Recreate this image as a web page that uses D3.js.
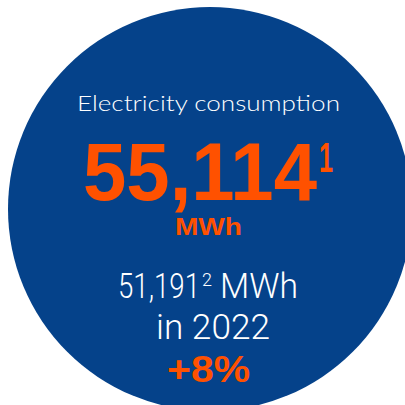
<!DOCTYPE html>
<html><head><meta charset="utf-8">
<script src="https://cdn.jsdelivr.net/npm/d3@7"></script>
<style>html,body{margin:0;padding:0;background:#fff;}svg{display:block;}</style>
</head><body>
<script>
const title = "Electricity consumption";
const currentValue = 55114;
const currentNote = "1";
const unit = "MWh";
const previousValue = 51191;
const previousNote = "2";
const previousYear = 2022;
const changePct = 8;

const W = 405, H = 405;
const blue = "#05428A", orange = "#FF5100";
const fmt = d3.format(",");
const svg = d3.select("body").append("svg").attr("width", W).attr("height", H);

svg.append("circle").attr("cx", 210).attr("cy", 209).attr("r", 202).attr("fill", blue);

function txt(x, y, s, o) {
  const t = svg.append("text").attr("x", x).attr("y", y).text(s)
    .attr("fill", o.fill).attr("font-family", o.family).attr("font-weight", o.weight)
    .attr("font-size", o.size).attr("text-anchor", o.anchor || "start");
  if (o.len) t.attr("textLength", o.len).attr("lengthAdjust", "spacingAndGlyphs");
  return t;
}

txt(77, 111, title, {fill:"#fff", family:"Lato, 'Open Sans', sans-serif", weight:300, size:21, len:263});
txt(83, 200, fmt(currentValue), {fill:orange, family:"'Liberation Sans', Arial, sans-serif", weight:700, size:81, len:234});
txt(319, 172, currentNote, {fill:orange, family:"'Liberation Sans', Arial, sans-serif", weight:700, size:42, len:14});
txt(175, 235, unit, {fill:orange, family:"'Liberation Sans', Arial, sans-serif", weight:700, size:24, len:67});
txt(118, 298, fmt(previousValue), {fill:"#fff", family:"Roboto, 'Liberation Sans', sans-serif", weight:300, size:35, len:82});
txt(202, 286, previousNote, {fill:"#fff", family:"Roboto, 'Liberation Sans', sans-serif", weight:300, size:18, len:10});
txt(220, 298, unit, {fill:"#fff", family:"Roboto, 'Liberation Sans', sans-serif", weight:300, size:35, len:78});
txt(156, 339, "in " + previousYear, {fill:"#fff", family:"Roboto, 'Liberation Sans', sans-serif", weight:300, size:35, len:114});
txt(167, 382, "+" + changePct + "%", {fill:orange, family:"'Liberation Sans', Arial, sans-serif", weight:700, size:37, len:83});
</script>
</body></html>
